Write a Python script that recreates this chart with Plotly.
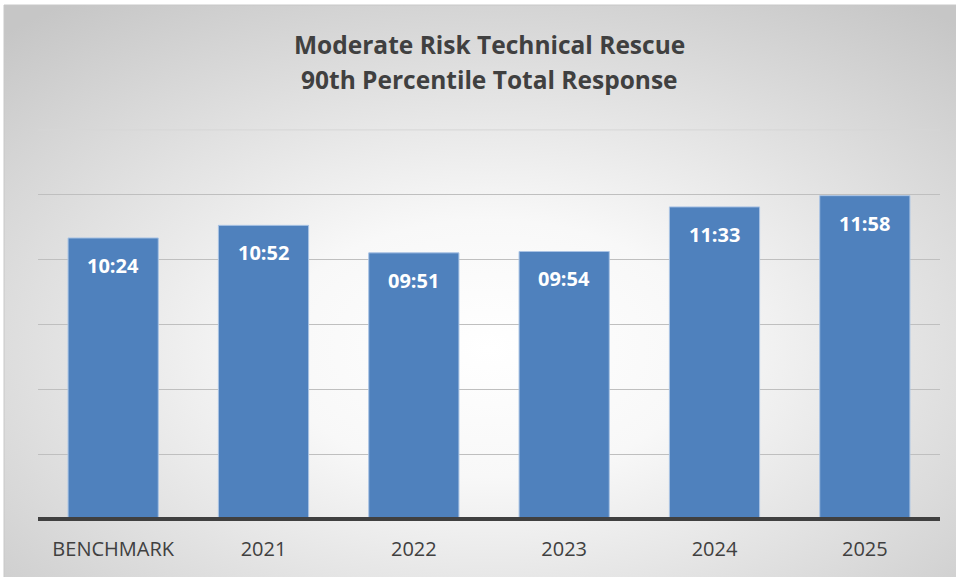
import base64
import plotly.graph_objects as go

categories = ["BENCHMARK", "2021", "2022", "2023", "2024", "2025"]
time_labels = ["10:24", "10:52", "09:51", "09:54", "11:33", "11:58"]
seconds = [int(t.split(":")[0]) * 60 + int(t.split(":")[1]) for t in time_labels]

title_lines = ["Moderate Risk Technical Rescue", "90th Percentile Total Response"]

W, H = 956, 577
L, R, T, B = 38, 16, 129, 58
pw, ph = W - L - R, H - T - B

svg = (
    '<svg xmlns="http://www.w3.org/2000/svg" width="952" height="572" viewBox="0 0 952 572" preserveAspectRatio="none">'
    '<defs><radialGradient id="g" cx="51%" cy="60%" r="75%" fx="51%" fy="60%" gradientUnits="objectBoundingBox">'
    '<stop offset="0%" stop-color="#ffffff"/><stop offset="30%" stop-color="#f8f8f8"/>'
    '<stop offset="100%" stop-color="#c6c6c6"/></radialGradient></defs>'
    '<rect x="0" y="0" width="952" height="572" fill="url(#g)"/></svg>'
)
src = "data:image/svg+xml;base64," + base64.b64encode(svg.encode()).decode()

def px_x(x):
    return (x - L) / pw

def px_y(y):
    return (H - B - y) / ph

fig = go.Figure(
    go.Bar(
        x=categories,
        y=seconds,
        marker=dict(color="#4F81BD", line=dict(color="#a9c3e4", width=1)),
        width=0.6,
        hoverinfo="skip",
    )
)

for i, (s, t) in enumerate(zip(seconds, time_labels)):
    fig.add_annotation(
        x=i, y=s, text="<b>%s</b>" % t, showarrow=False,
        yanchor="top", yshift=-12,
        font=dict(family="Open Sans, Lato, sans-serif", size=20, color="white"),
    )

for line, yc in zip(title_lines, [44, 79]):
    fig.add_annotation(
        xref="paper", yref="paper", x=0.5, y=px_y(yc), yanchor="middle",
        text="<b>%s</b>" % line, showarrow=False,
        font=dict(family="Open Sans, Lato, sans-serif", size=24.5, color="#404040"),
    )

fig.add_layout_image(
    source=src, xref="paper", yref="paper",
    x=px_x(4), y=px_y(5), sizex=px_x(956) - px_x(4), sizey=px_y(5) - px_y(577),
    xanchor="left", yanchor="top", sizing="stretch", layer="below",
)
fig.add_shape(
    type="rect", xref="paper", yref="paper",
    x0=px_x(4), x1=px_x(962), y0=px_y(582), y1=px_y(5),
    line=dict(color="#c8c8c8", width=1), layer="below",
)
# top gridline
fig.add_shape(
    type="line", xref="paper", yref="y", x0=0, x1=1, y0=864, y1=864,
    line=dict(color="#d6d6d6", width=1), layer="below",
)
# baseline
fig.add_shape(
    type="line", xref="paper", yref="paper", x0=0, x1=1, y0=px_y(519), y1=px_y(519),
    line=dict(color="#404040", width=4), layer="above",
)

fig.update_layout(
    width=W, height=H,
    margin=dict(l=L, r=R, t=T, b=B),
    paper_bgcolor="white", plot_bgcolor="rgba(0,0,0,0)",
    showlegend=False,
    bargap=0.4,
)
fig.update_xaxes(
    type="category", range=[-0.5, 5.5],
    showline=False,
    ticks="", ticklabelstandoff=16,
    tickfont=dict(family="Open Sans, Lato, sans-serif", size=20, color="#404040"),
    showgrid=False,
)
fig.update_yaxes(
    range=[0, 866], dtick=144, showticklabels=False, zeroline=False,
    showgrid=True, gridcolor="#bfbfbf", gridwidth=1,
)

fig.write_html("out.html", config={"displayModeBar": False},
               post_script="document.body.style.margin='0';")
